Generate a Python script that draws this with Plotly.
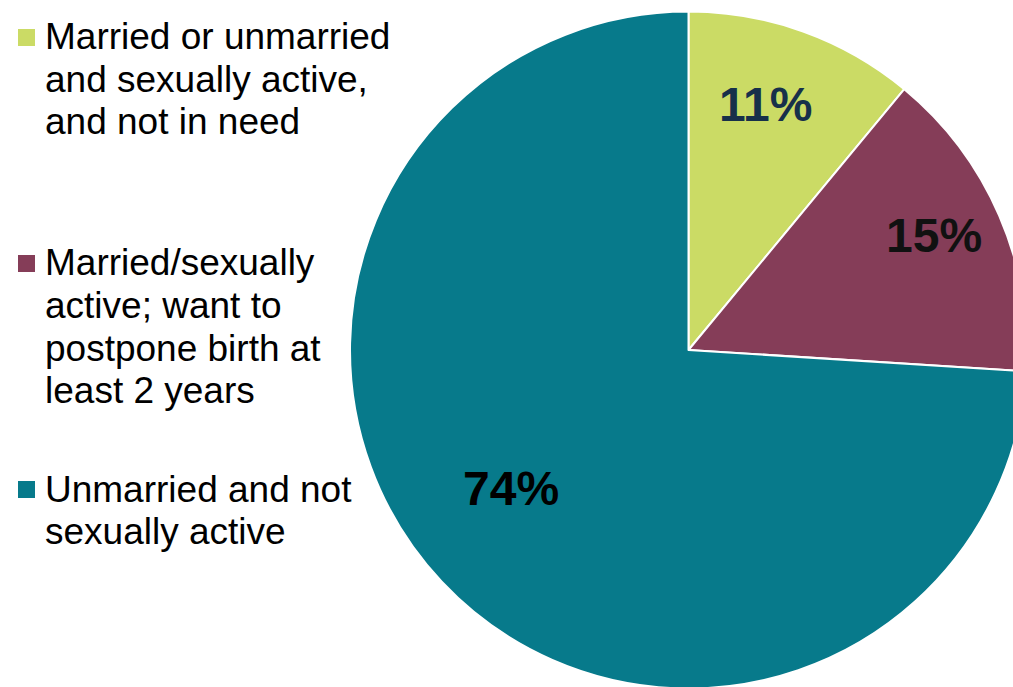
import math
import plotly.graph_objects as go

# Slice data
categories = [
    "Married or unmarried and sexually active, and not in need",
    "Married/sexually active; want to postpone birth at least 2 years",
    "Unmarried and not sexually active",
]
shares = [11, 15, 74]

# Legend text, broken into display lines
legend_lines = [
    ["Married or unmarried", "and sexually active,", "and not in need"],
    ["Married/sexually", "active; want to", "postpone birth at", "least 2 years"],
    ["Unmarried and not", "sexually active"],
]

slice_colors = ["#CBDB65", "#853D58", "#077A8B"]
label_colors = ["#17304A", "#111111", "#000000"]

# Where each percentage label sits inside its slice:
# fraction along the slice's arc, and fraction of the radius
label_arc_frac = [0.44, 0.47, 0.52]
label_radius_frac = [0.76, 0.80, 0.665]

W, H = 1027, 700
FONT = "Liberation Sans, Arial, sans-serif"
PIE_LEFT = 350
CX, CY = (PIE_LEFT + W) / 2, H / 2
R = (W - PIE_LEFT) / 2


def px(x):
    return x / W


def py(y):
    return 1 - y / H


fig = go.Figure(
    go.Pie(
        labels=categories,
        values=shares,
        sort=False,
        direction="clockwise",
        rotation=0,
        marker=dict(colors=slice_colors, line=dict(color="white", width=2)),
        textinfo="none",
        hoverinfo="label+percent",
        showlegend=False,
        domain=dict(x=[PIE_LEFT / W, 1], y=[0, 1]),
    )
)

annotations = []
shapes = []

# Percentage labels placed along each slice, from the cumulative shares
total = sum(shares)
start = 0.0
for i, v in enumerate(shares):
    span = 360.0 * v / total
    theta = math.radians(start + span * label_arc_frac[i])
    r = R * label_radius_frac[i]
    annotations.append(
        dict(
            text=f"{v}%",
            xref="paper",
            yref="paper",
            x=px(CX + r * math.sin(theta)),
            y=py(CY - r * math.cos(theta)),
            xanchor="center",
            yanchor="middle",
            showarrow=False,
            font=dict(family=FONT, size=48, color=label_colors[i], weight="bold"),
        )
    )
    start += span

# Legend drawn as colour squares with text lines beside them
first_line_y = [37, 263, 489]
line_step = 42.5
for i, lines in enumerate(legend_lines):
    y0 = first_line_y[i]
    shapes.append(
        dict(
            type="rect",
            xref="paper",
            yref="paper",
            x0=px(18),
            x1=px(35),
            y0=py(y0 - 8),
            y1=py(y0 + 9),
            fillcolor=slice_colors[i],
            line=dict(width=0),
        )
    )
    for j, line in enumerate(lines):
        annotations.append(
            dict(
                text=line,
                xref="paper",
                yref="paper",
                x=px(43),
                y=py(y0 + j * line_step),
                xanchor="left",
                yanchor="middle",
                showarrow=False,
                font=dict(family=FONT, size=37, color="#000000"),
            )
        )

fig.update_layout(
    width=W,
    height=H,
    margin=dict(l=0, r=0, t=0, b=0),
    paper_bgcolor="white",
    plot_bgcolor="white",
    annotations=annotations,
    shapes=shapes,
    font=dict(family=FONT),
)

fig.write_html(
    "out.html",
    post_script=(
        "document.documentElement.style.overflow='hidden';"
        "document.body.style.overflow='hidden';"
        "document.body.style.margin='0';"
    ),
)
